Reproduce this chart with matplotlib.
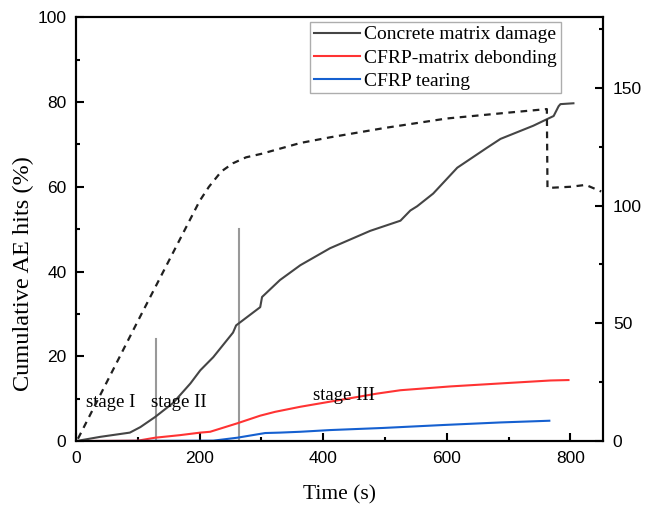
import matplotlib.pyplot as plt

# cumulative AE hits (%) by damage mechanism
t_concrete = [0, 39, 87, 104, 128, 157, 185, 201, 222, 254, 259, 298, 301, 330, 363,
              411, 476, 525, 541, 552, 578, 617, 665, 687, 740, 773, 781, 784, 805]
concrete = [0, 1.0, 2.0, 3.3, 5.7, 9.0, 13.6, 16.7, 19.8, 25.6, 27.3, 31.6, 34.0, 38.0, 41.5,
            45.5, 49.6, 52.0, 54.4, 55.4, 58.4, 64.5, 69.2, 71.3, 74.4, 76.7, 79.0, 79.5, 79.7]

t_debond = [0, 100, 128, 168, 201, 217, 261, 298, 322, 363, 411, 487, 525, 606, 698, 768, 797]
debond = [0, 0.1, 0.8, 1.4, 2.0, 2.2, 4.2, 6.0, 6.9, 8.1, 9.3, 11.2, 12.0, 12.9, 13.7, 14.3, 14.4]

t_tear = [0, 222, 261, 306, 330, 363, 411, 497, 595, 687, 766]
tear = [0, 0.1, 0.8, 1.9, 2.0, 2.2, 2.6, 3.1, 3.8, 4.4, 4.8]

# right-axis dashed curve
t_dash = [3, 100, 200, 215, 235, 254, 275, 300, 363, 411, 500, 600, 700, 762, 763, 800, 825, 850]
dash = [1, 51, 102, 108, 114.5, 118, 120.5, 122, 126.6, 129, 133, 137, 139.5, 141, 107.5, 108, 108.8, 106]

# stage boundaries (time, height in %)
stage_t = [130, 263]
stage_h = [24, 50]
stage_labels = ["stage I", "stage II", "stage III"]
stage_pos = [(16, 9), (122, 9), (384, 10.8)]

serif = "Liberation Serif"
sans = "Liberation Sans"

fig = plt.figure(figsize=(6.45, 5.07), dpi=100)
ax = fig.add_axes([0.118, 0.130, 0.817, 0.836])
ax2 = ax.twinx()

for x, h in zip(stage_t, stage_h):
    ax.plot([x, x], [0, h], color="#999999", lw=1.5, zorder=1)

ax.plot(t_concrete, concrete, color="#454545", lw=1.5, label="Concrete matrix damage")
ax.plot(t_debond, debond, color="#ff3333", lw=1.5, label="CFRP-matrix debonding")
ax.plot(t_tear, tear, color="#1560d0", lw=1.5, label="CFRP tearing")
ax2.plot(t_dash, dash, color="#202020", lw=1.6, ls=(0, (3, 2.5)))

for lab, (x, y) in zip(stage_labels, stage_pos):
    ax.text(x, y, lab, fontfamily=serif, fontsize=13.5, va="center", ha="left")

ax.set_xlim(0, 853)
ax.set_ylim(0, 100)
ax2.set_ylim(0, 180)
ax.set_xticks([0, 200, 400, 600, 800])
ax.set_xticks([100, 300, 500, 700], minor=True)
ax.set_yticks([0, 20, 40, 60, 80, 100])
ax.set_yticks([10, 30, 50, 70, 90], minor=True)
ax2.set_yticks([0, 50, 100, 150])
ax2.set_yticks([25, 75, 125, 175], minor=True)

for a in (ax, ax2):
    for s in a.spines.values():
        s.set_linewidth(1.5)
    a.tick_params(which="both", direction="in", width=1.5, labelsize=12.5, pad=7)
    a.tick_params(which="major", length=5.5)
    a.tick_params(which="minor", length=3)
    for lbl in a.get_xticklabels() + a.get_yticklabels():
        lbl.set_fontfamily(sans)

ax.set_xlabel("Time (s)", fontfamily=serif, fontsize=15.5, labelpad=14)
ax.set_ylabel("Cumulative AE hits (%)", fontfamily=serif, fontsize=17.5)
ax.yaxis.set_label_coords(-0.08, 0.396)

leg = ax.legend(loc="upper right", bbox_to_anchor=(0.927, 0.998), prop={"family": serif, "size": 14},
                frameon=True, fancybox=False, edgecolor="#999999", handlelength=2.4,
                handletextpad=0.2, borderpad=0.2, labelspacing=0.28, borderaxespad=0.2)
leg.get_frame().set_linewidth(1.0)

fig.savefig("out.png", dpi=100)
